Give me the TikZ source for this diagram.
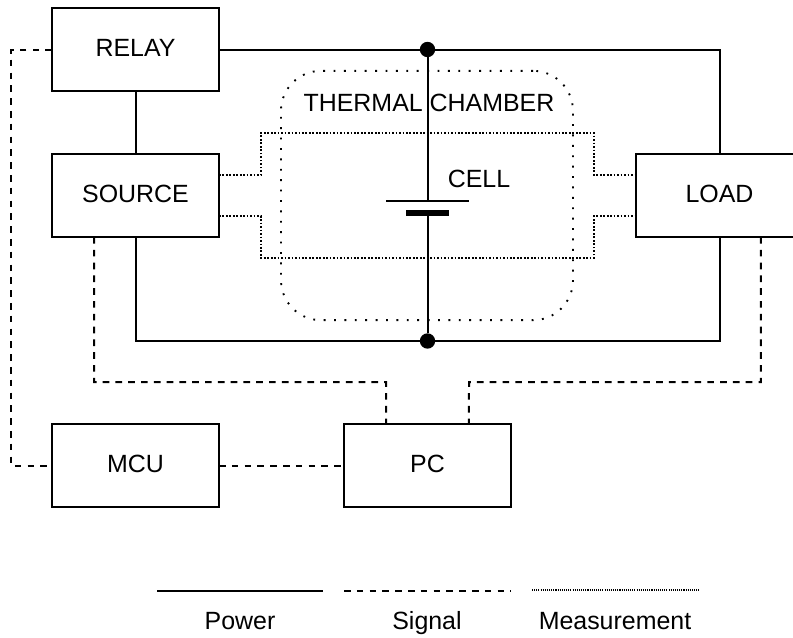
\documentclass[tikz,border=0pt]{standalone}
\usepackage{fontspec}
\setsansfont{Liberation Sans}
\usetikzlibrary{positioning, calc}
\tikzset{
    font=\sffamily,
    % Shapes
    block/.style={rectangle, draw, line width=1.5pt, outer sep=0pt, text depth=2.25pt,
                  minimum width=125.25pt, minimum height=62.25pt, align=center,
                  font=\fontsize{18.7}{21}\sffamily},
    chamber/.style={rectangle, draw, line width=1.4pt, rounded corners=30pt,
                    dash pattern=on 1.4pt off 6.4pt, minimum width=219pt, minimum height=187pt},
    plate/.style={rectangle, fill=black, inner sep=0pt, outer sep=0pt},
    junction/.style={circle, fill=black, inner sep=0pt, minimum size=11.5pt},
    % Flow & Labels
    power/.style={line width=1.5pt},
    signal/.style={line width=1.5pt, dash pattern=on 5pt off 4.6pt},
    measure/.style={line width=1.5pt, dash pattern=on 1.3pt off 1.3pt},
    lbl/.style={font=\fontsize{18.7}{21}\sffamily, inner sep=0pt}
}
\begin{document}
\begin{tikzpicture}[x=0.75pt, y=-0.75pt, node distance=47.25pt and 93.75pt]
\useasboundingbox (0,0) rectangle (793,637);

\node[chamber] (room) at (427,195.5) {};
\node[lbl] (roomText) at (429,102.5) {THERMAL CHAMBER};

\node[block] (relay) at (135.5,49.5) {RELAY};
\node[block, below=of relay] (source) {SOURCE};
\node[block, right=312.75pt of source] (load) {LOAD};
\node[block, below=140.25pt of source] (mcu) {MCU};
\node[block, right=of mcu] (pc) {PC};

\node[junction] (topDot) at (427.5,49.5) {};
\node[junction] (botDot) at (427.5,341) {};
\node[plate, minimum width=62.5pt, minimum height=1.5pt] (plateLong) at (427.5,201) {};
\node[plate, minimum width=32.5pt, minimum height=4.8pt] (plateShort) at (427.5,213) {};
\node[lbl] (cellText) at (479,179) {CELL};

% Power
\draw[power] (relay.east) -- (topDot) -| (load.north);
\draw[power] (source.south) |- (botDot) -| (load.south);
\draw[power] (relay.south) -- (source.north);
\draw[power] (topDot) -- (plateLong);
\draw[power] (plateShort) -- (botDot);

% Measurement
\coordinate (measTop) at (427,133);
\coordinate (measBot) at (427,258);
\draw[measure] ([yshift=15.5pt]source.east) -- +(31.5pt,0) |- (measTop) -| ($(load.west)+(-31.5pt,15.5pt)$) -- ([yshift=15.5pt]load.west);
\draw[measure] ([yshift=-15.5pt]source.east) -- +(31.5pt,0) |- (measBot) -| ($(load.west)+(-31.5pt,-15.5pt)$) -- ([yshift=-15.5pt]load.west);

% Signal
\coordinate (sigLeft) at (386,382);
\coordinate (sigRight) at (469,382);
\coordinate (sigOuter) at (11,257);
\draw[signal] (relay.west) -| (sigOuter) |- (mcu.west);
\draw[signal] (mcu.east) -- (pc.west);
\draw[signal] ([xshift=-31.1pt]source.south) |- (sigLeft) -- ([xshift=-31.1pt]pc.north);
\draw[signal] ([xshift=31.1pt]load.south) |- (sigRight) -- ([xshift=31.1pt]pc.north);

% Legend
\coordinate (powerA) at (157,591);
\coordinate (powerB) at (323,591);
\coordinate (signalA) at (344,591);
\coordinate (signalB) at (511,591);
\coordinate (measA) at (532,590);
\coordinate (measB) at (699,590);
\draw[power] (powerA) -- (powerB);
\draw[signal] (signalA) -- (signalB);
\draw[line width=1.3pt, dash pattern=on 0.8pt off 0.8pt] (measA) -- (measB);
\node[lbl, anchor=base] (powerText) at (240,629) {Power};
\node[lbl, anchor=base] (signalText) at (427,629) {Signal};
\node[lbl, anchor=base] (measText) at (615,629) {Measurement};

\end{tikzpicture}
\end{document}
